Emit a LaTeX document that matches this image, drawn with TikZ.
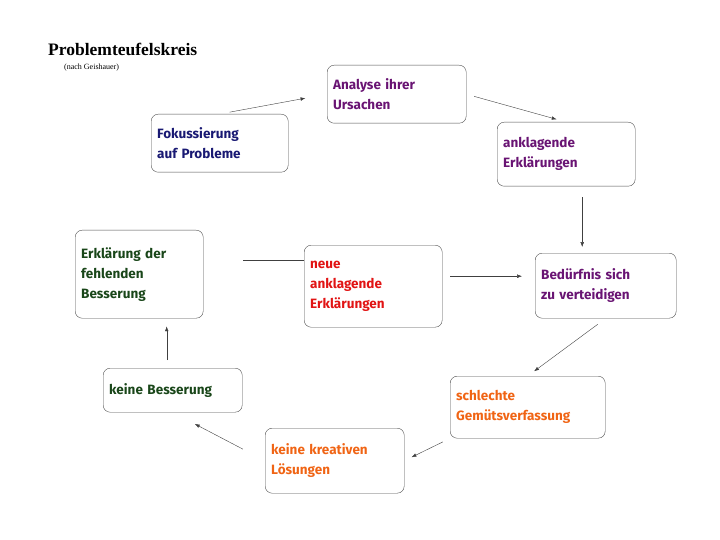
\documentclass[tikz,border=0pt]{standalone}
\usepackage{fontspec}
\setmainfont{Liberation Serif}
\newfontfamily\boxfont{Fira Sans}
\usetikzlibrary{arrows.meta,positioning}
\definecolor{navy}{RGB}{25,25,115}
\definecolor{lila}{RGB}{105,20,115}
\definecolor{dgreen}{RGB}{25,70,25}
\definecolor{hred}{RGB}{225,20,20}
\definecolor{hor}{RGB}{240,100,20}
\tikzset{
  kasten/.style={draw=black!70,rounded corners=7pt,anchor=north west,align=left,
    inner sep=6pt,text width=#1,font=\boxfont\bfseries\fontsize{13.5}{24}\selectfont},
  pfeil/.style={-Latex,black!75,thin}
}
\begin{document}
\begin{tikzpicture}[x=1pt,y=-1pt]
\useasboundingbox (0,0) rectangle (720,540);
\node[anchor=north west,inner sep=0,font=\bfseries\fontsize{17.5}{19}\selectfont] (titel) at (48,43) {Problemteufelskreis};
\node[anchor=north west,inner sep=0,font=\fontsize{8}{9}\selectfont] (quelle) at (64,64) {(nach Geishauer)};
% Kästen
\node[kasten=127,text=lila,minimum height=58] (ana) at (327,65) {Analyse ihrer\\[-4pt]Ursachen};
\node[kasten=126,text=lila,minimum height=64] (ank) at (497,122) {anklagende\\[-4pt]Erklärungen};
\node[kasten=125,text=navy,minimum height=58] (fok) at (151,114) {Fokussierung\\[-4pt]auf Probleme};
\node[kasten=116,text=dgreen,minimum height=88] (erk) at (75,230) {Erklärung der\\[-4pt]fehlenden\\[-4pt]Besserung};
\node[kasten=126,text=hred,minimum height=82] (neu) at (304,245) {neue\\[-4pt]anklagende\\[-4pt]Erklärungen};
\node[kasten=129,text=lila,minimum height=65] (bed) at (535,253) {Bedürfnis sich\\[-4pt]zu verteidigen};
\node[kasten=127,text=dgreen,minimum height=44] (kb) at (103,368) {keine Besserung};
\node[kasten=143,text=hor,minimum height=62] (sch) at (450,376) {schlechte\\[-4pt]Gemütsverfassung};
\node[kasten=127,text=hor,minimum height=65] (kre) at (265,428) {keine kreativen\\[-4pt]Lösungen};
% Pfeile
\draw[pfeil,shorten <=10pt,shorten >=22pt] (fok.north) -- (ana.west);
\draw[pfeil,shorten <=8pt,shorten >=10pt] (ana.east) -- (ank.north);
\draw[pfeil,shorten <=11pt,shorten >=6pt] ([xshift=16pt]ank.south) -- ([xshift=16pt]ank.south |- bed.north);
\draw[pfeil,shorten <=10pt,shorten >=8pt] (bed.south) -- (sch.north);
\draw[pfeil,shorten <=8pt,shorten >=8pt] (sch.south west) -- (kre.east);
\draw[pfeil,shorten <=25pt,shorten >=25pt] (kre.west) -- (kb.south);
\draw[pfeil,shorten <=8pt,shorten >=8pt] ([xshift=-6pt]kb.north) -- ([xshift=-6pt]kb.north |- erk.south);
\draw[black!75,thin,shorten >=40pt] ([yshift=26pt]neu.west) -- ([yshift=26pt]neu.west -| erk.east);
\draw[pfeil,shorten <=8pt,shorten >=13pt] ([yshift=10pt]neu.east) -- ([yshift=10pt]neu.east -| bed.west);
\end{tikzpicture}
\end{document}
